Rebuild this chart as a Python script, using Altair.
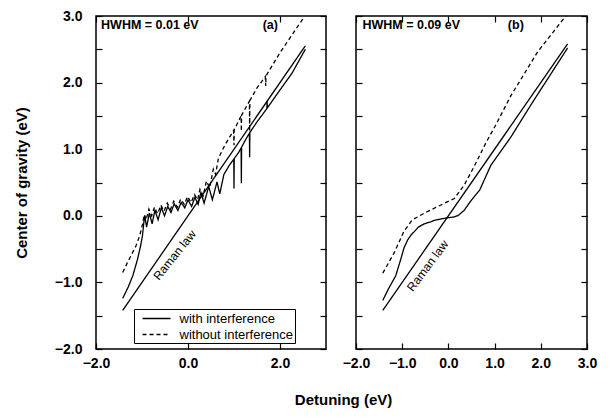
import altair as alt
import pandas as pd

FONT = "Liberation Sans"
SERIES = ["with interference", "without interference"]

# ---- Panel (a): HWHM = 0.01 eV ----
a_with_x = [-1.42, -1.30, -1.20, -1.10, -1.03, -0.99, -0.96, -0.94, -0.90, -0.84, -0.78, -0.72,
            -0.65, -0.58, -0.51, -0.44, -0.37, -0.30, -0.22, -0.15, -0.07, 0.00, 0.08, 0.15,
            0.22, 0.28, 0.35, 0.45, 0.53, 0.63, 0.69, 0.78, 0.90, 0.995, 1.0, 1.005, 1.10,
            1.155, 1.16, 1.165, 1.25, 1.335, 1.34, 1.345, 1.50, 1.715, 1.72, 1.725, 2.00, 2.26, 2.55]
a_with_y = [-1.24, -1.07, -0.90, -0.66, -0.45, -0.30, -0.10, 0.00, -0.17, 0.04, -0.12, 0.08,
            -0.06, 0.12, 0.00, 0.14, 0.05, 0.18, 0.08, 0.20, 0.12, 0.24, 0.14, 0.28,
            0.17, 0.35, 0.19, 0.44, 0.24, 0.51, 0.33, 0.62, 0.76, 0.85, 0.41, 0.86, 0.95,
            1.02, 0.49, 1.03, 1.14, 1.24, 0.88, 1.25, 1.41, 1.61, 1.72, 1.62, 1.89, 2.14, 2.50]
a_without_x = [-1.42, -1.30, -1.13, -1.05, -0.99, -0.95, -0.91, -0.85, -0.79, -0.73, -0.66, -0.59,
               -0.52, -0.45, -0.38, -0.31, -0.23, -0.16, -0.08, -0.01, 0.07, 0.14, 0.21, 0.26,
               0.33, 0.40, 0.47, 0.55, 0.60, 0.66, 0.80, 0.99, 1.0, 1.005, 1.155, 1.16, 1.165,
               1.335, 1.34, 1.345, 1.50, 1.68, 1.69, 1.695, 2.00, 2.52]
a_without_y = [-0.85, -0.68, -0.45, -0.30, -0.13, 0.02, -0.06, 0.10, 0.00, 0.13, 0.03, 0.16,
               0.07, 0.19, 0.10, 0.22, 0.13, 0.25, 0.17, 0.29, 0.20, 0.32, 0.24, 0.40,
               0.30, 0.52, 0.42, 0.70, 0.62, 0.86, 1.06, 1.28, 1.06, 1.29, 1.50, 1.27, 1.51,
               1.72, 1.27, 1.73, 1.92, 2.09, 1.95, 2.10, 2.45, 2.98]
a_raman_x = [-1.42, 2.55]
a_raman_y = [-1.42, 2.55]

# ---- Panel (b): HWHM = 0.09 eV ----
b_with_x = [-1.42, -1.30, -1.14, -1.03, -0.96, -0.88, -0.80, -0.74, -0.65, -0.52, -0.38, -0.31,
            -0.18, -0.02, 0.10, 0.20, 0.27, 0.34, 0.45, 0.55, 0.68, 0.92, 1.35, 1.79, 2.58]
b_with_y = [-1.27, -1.10, -0.90, -0.65, -0.48, -0.36, -0.28, -0.24, -0.17, -0.12, -0.09, -0.07,
            -0.05, -0.03, -0.02, 0.00, 0.04, 0.08, 0.19, 0.28, 0.39, 0.76, 1.18, 1.67, 2.52]
b_without_x = [-1.42, -1.17, -0.96, -0.78, -0.52, -0.23, 0.13, 0.34, 0.45, 0.60, 0.80, 1.03,
               1.35, 1.93, 2.54]
b_without_y = [-0.86, -0.55, -0.23, -0.06, 0.04, 0.14, 0.26, 0.46, 0.60, 0.80, 1.08, 1.37,
               1.80, 2.46, 3.00]
b_raman_x = [-1.42, 2.58]
b_raman_y = [-1.42, 2.58]

# ---- annotations ----
hwhm_text = ["HWHM = 0.01 eV", "HWHM = 0.09 eV"]
hwhm_x = [-1.89, -1.86]
tag_text = ["(a)", "(b)"]
tag_x = [1.79, 1.46]
label_y = 2.86
raman_label_x = [-0.29, -0.45]
raman_label_y = [-0.59, -0.75]
raman_label_angle = [309, 307]

x_ticks_a = [-2, 0, 2]
x_ticks_b = [-2, -1, 0, 1, 2, 3]
y_ticks = [-2, -1.5, -1, -0.5, 0, 0.5, 1, 1.5, 2, 2.5, 3]


def series_df(xs, ys, name):
    return pd.DataFrame({"x": xs, "y": ys, "series": name, "i": list(range(len(xs)))})


def panel(k, wx, wy, ox, oy, rx, ry, x_ticks, show_y, show_legend, width):
    xs = alt.Scale(domain=[-2, 3], nice=False, zero=False)
    ys = alt.Scale(domain=[-2, 3], nice=False, zero=False)
    tick = dict(offset=-6, tickSize=6, ticks=True, domain=False, grid=False,
                tickColor="black", tickWidth=1.2)
    bottom = alt.Axis(orient="bottom", values=x_ticks, format=".1f", title=None,
                      labelFont=FONT, labelFontSize=14, labelFontWeight="bold",
                      labelColor="black", labelPadding=7, labelOverlap=False,
                      labelFlush=False, **tick)
    if show_y:
        left = alt.Axis(orient="left", values=y_ticks,
                        labelExpr="datum.value % 1 == 0 ? format(datum.value, '.1f') : ''",
                        title="Center of gravity (eV)", titleFont=FONT, titleFontSize=15,
                        titleFontWeight="bold", titleColor="black", titlePadding=25,
                        labelFont=FONT, labelFontSize=14, labelFontWeight="bold",
                        labelColor="black", labelPadding=14, labelOverlap=False,
                        labelFlush=False, **tick)
    else:
        left = alt.Axis(orient="left", values=y_ticks, labels=False, title=None, **tick)
    top = alt.Axis(orient="top", values=x_ticks, labels=False, title=None, **tick)
    right = alt.Axis(orient="right", values=y_ticks, labels=False, title=None, **tick)

    df = pd.concat([series_df(wx, wy, SERIES[0]), series_df(ox, oy, SERIES[1])])
    if show_legend:
        leg = alt.Legend(title=None, orient="none", legendX=38, legendY=293,
                         strokeColor="black", fillColor="white", padding=1.5,
                         symbolType="M-2,0H2", symbolSize=196, symbolStrokeWidth=1.3,
                         symbolStrokeColor="black", symbolOffset=13, labelFont=FONT,
                         labelFontSize=13, labelColor="black", rowPadding=1,
                         labelOffset=15, cornerRadius=0)
    else:
        leg = None
    curves = alt.Chart(df).mark_line(color="black", strokeWidth=1.3).encode(
        x=alt.X("x:Q", scale=xs, axis=bottom),
        y=alt.Y("y:Q", scale=ys, axis=left),
        strokeDash=alt.StrokeDash("series:N",
                                  scale=alt.Scale(domain=SERIES, range=[[1, 0], [4, 3]]),
                                  legend=leg),
        order="i:Q",
    )
    raman = alt.Chart(pd.DataFrame({"x": rx, "y": ry})).mark_line(
        color="black", strokeWidth=1.3).encode(
        x=alt.X("x:Q", axis=None), y=alt.Y("y:Q", axis=None))
    frame_axes = alt.Chart(pd.DataFrame({"x": rx, "y": ry})).mark_line(opacity=0).encode(
        x=alt.X("x:Q", axis=top), y=alt.Y("y:Q", axis=right))
    ann = pd.DataFrame({"x": [hwhm_x[k]], "y": [label_y], "t": [hwhm_text[k]],
                        "tx": [tag_x[k]], "tag": [tag_text[k]],
                        "rx": [raman_label_x[k]], "ry": [raman_label_y[k]],
                        "rl": ["Raman law"]})
    hw = alt.Chart(ann).mark_text(align="left", baseline="middle", font=FONT, fontSize=12.5,
                                  fontWeight="bold", color="black").encode(
        x=alt.X("x:Q", axis=None), y=alt.Y("y:Q", axis=None), text="t:N")
    tg = alt.Chart(ann).mark_text(align="center", baseline="middle", font=FONT, fontSize=12.5,
                                  fontWeight="bold", color="black").encode(
        x=alt.X("tx:Q", axis=None), y=alt.Y("y:Q", axis=None), text="tag:N")
    rl = alt.Chart(ann).mark_text(align="center", baseline="middle", font=FONT, fontSize=12,
                                  angle=raman_label_angle[k], color="black").encode(
        x=alt.X("rx:Q", axis=None), y=alt.Y("ry:Q", axis=None), text="rl:N")
    return alt.layer(curves, raman, hw, tg, rl, frame_axes).resolve_axis(
        x="independent", y="independent").properties(width=width, height=333)


left_panel = panel(0, a_with_x, a_with_y, a_without_x, a_without_y, a_raman_x, a_raman_y,
                   x_ticks_a, True, True, 230)
right_panel = panel(1, b_with_x, b_with_y, b_without_x, b_without_y, b_raman_x, b_raman_y,
                    x_ticks_b, False, False, 231)

chart = alt.hconcat(left_panel, right_panel, spacing=13).resolve_scale(
    strokeDash="independent").resolve_legend(strokeDash="independent").properties(
    title=alt.TitleParams("Detuning (eV)", orient="bottom", anchor="middle", font=FONT,
                          fontSize=15, fontWeight="bold", color="black", offset=22, dx=38),
    padding={"left": 5, "top": 0, "right": 0, "bottom": 0},
).configure_view(stroke="black", strokeWidth=1.5)

chart.save("out.html", embed_options={"renderer": "svg", "actions": False})
